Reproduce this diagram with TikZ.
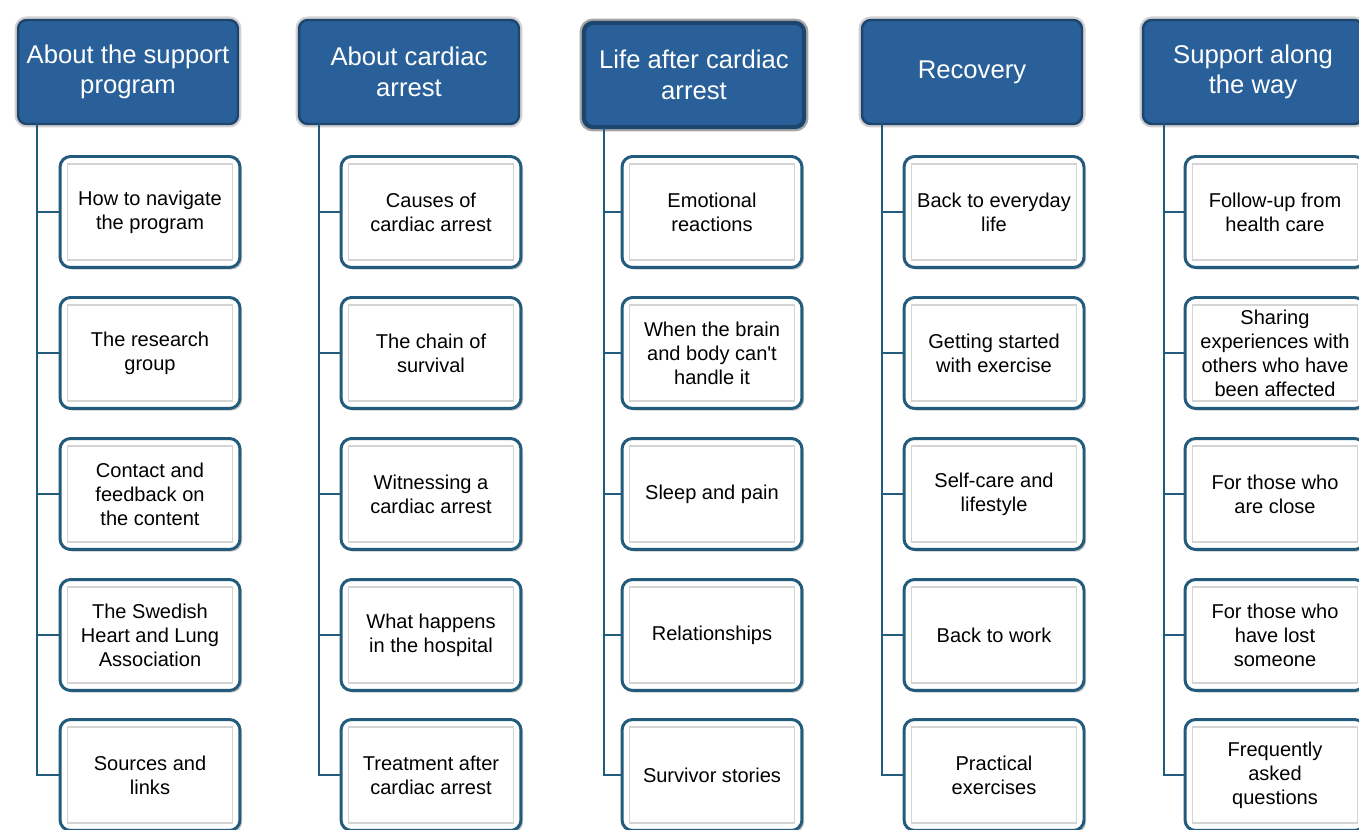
\documentclass[tikz,border=0pt]{standalone}
\usepackage{fontspec}
\setmainfont{Liberation Sans}
\usetikzlibrary{shadows}

\definecolor{hdrblue}{HTML}{2A6099}
\definecolor{hdrdark}{HTML}{1C4670}
\definecolor{treeline}{HTML}{225B7C}
\definecolor{framegray}{HTML}{D4D4D4}

\tikzset{
  header/.style={draw=hdrdark, line width=1.4pt, fill=hdrblue, rounded corners=5pt,
    preaction={draw=black!18, line width=4pt},
    minimum width=4.4cm, minimum height=2.08cm, align=center, text=white,
    font=\fontsize{14.6}{17.4}\selectfont},
  headersel/.style={header, line width=2.4pt, preaction={draw=black!35, line width=5pt}},
  topic/.style={draw=treeline, line width=1.7pt, fill=white, rounded corners=6pt,
    drop shadow={shadow xshift=1.2pt, shadow yshift=-1.2pt, opacity=0.45},
    minimum width=3.6cm, minimum height=2.22cm, align=center, text=black,
    font=\fontsize{11.4}{13.7}\selectfont,
    path picture={\draw[framegray, line width=0.9pt, sharp corners]
      ([shift={(0.15cm,-0.15cm)}]path picture bounding box.north west) rectangle
      ([shift={(-0.15cm,0.15cm)}]path picture bounding box.south east);}},
  tree/.style={draw=treeline, line width=1.5pt}
}

\begin{document}
\begin{tikzpicture}[x=0.02cm, y=-0.02cm]
  \useasboundingbox (0,0) rectangle (1359,830);

  % Stems below the headers
  \coordinate (s1) at (37,124);
  \coordinate (s2) at (319,124);
  \coordinate (s3) at (604,128);
  \coordinate (s4) at (882,124);
  \coordinate (s5) at (1164,124);

  % Column headers
  \node[header] (h1) at (128,72) {About the support\\program};
  \node[header] (h2) at (409,72) {About cardiac\\arrest};
  \node[headersel] (h3) at (694,75) {Life after cardiac\\arrest};
  \node[header] (h4) at (972,72) {Recovery};
  \node[header] (h5) at (1253,72) {Support along\\the way};

  % About the support program
  \node[topic] (c11) at (150,212) {How to navigate\\the program};
  \node[topic] (c12) at (150,353) {The research\\group};
  \node[topic] (c13) at (150,494) {Contact and\\feedback on\\the content};
  \node[topic] (c14) at (150,635) {The Swedish\\Heart and Lung\\Association};
  \node[topic] (c15) at (150,775) {Sources and\\links};

  % About cardiac arrest
  \node[topic] (c21) at (431,212) {Causes of\\cardiac arrest};
  \node[topic] (c22) at (431,353) {The chain of\\survival};
  \node[topic] (c23) at (431,494) {Witnessing a\\cardiac arrest};
  \node[topic] (c24) at (431,635) {What happens\\in the hospital};
  \node[topic] (c25) at (431,775) {Treatment after\\cardiac arrest};

  % Life after cardiac arrest
  \node[topic] (c31) at (712,212) {Emotional\\reactions};
  \node[topic] (c32) at (712,353) {When the brain\\and body can\textquotesingle t\\handle it};
  \node[topic] (c33) at (712,494) {Sleep and pain};
  \node[topic] (c34) at (712,635) {Relationships};
  \node[topic] (c35) at (712,775) {Survivor stories};

  % Recovery
  \node[topic] (c41) at (994,212) {Back to everyday\\life};
  \node[topic] (c42) at (994,353) {Getting started\\with exercise};
  \node[topic] (c43) at (994,494) {Self-care and\\lifestyle};
  \node[topic] (c44) at (994,635) {Back to work};
  \node[topic] (c45) at (994,775) {Practical\\exercises};

  % Support along the way
  \node[topic] (c51) at (1275,212) {Follow-up from\\health care};
  \node[topic] (c52) at (1275,353) {Sharing\\experiences with\\others who have\\been affected};
  \node[topic] (c53) at (1275,494) {For those who\\are close};
  \node[topic] (c54) at (1275,635) {For those who\\have lost\\someone};
  \node[topic] (c55) at (1275,775) {Frequently\\asked\\questions};

  % Tree lines
  \draw[tree] (s1) |- (c15.west);
  \draw[tree] (s1) |- (c11.west);
  \draw[tree] (s1) |- (c12.west);
  \draw[tree] (s1) |- (c13.west);
  \draw[tree] (s1) |- (c14.west);

  \draw[tree] (s2) |- (c25.west);
  \draw[tree] (s2) |- (c21.west);
  \draw[tree] (s2) |- (c22.west);
  \draw[tree] (s2) |- (c23.west);
  \draw[tree] (s2) |- (c24.west);

  \draw[tree] (s3) |- (c35.west);
  \draw[tree] (s3) |- (c31.west);
  \draw[tree] (s3) |- (c32.west);
  \draw[tree] (s3) |- (c33.west);
  \draw[tree] (s3) |- (c34.west);

  \draw[tree] (s4) |- (c45.west);
  \draw[tree] (s4) |- (c41.west);
  \draw[tree] (s4) |- (c42.west);
  \draw[tree] (s4) |- (c43.west);
  \draw[tree] (s4) |- (c44.west);

  \draw[tree] (s5) |- (c55.west);
  \draw[tree] (s5) |- (c51.west);
  \draw[tree] (s5) |- (c52.west);
  \draw[tree] (s5) |- (c53.west);
  \draw[tree] (s5) |- (c54.west);
\end{tikzpicture}
\end{document}
